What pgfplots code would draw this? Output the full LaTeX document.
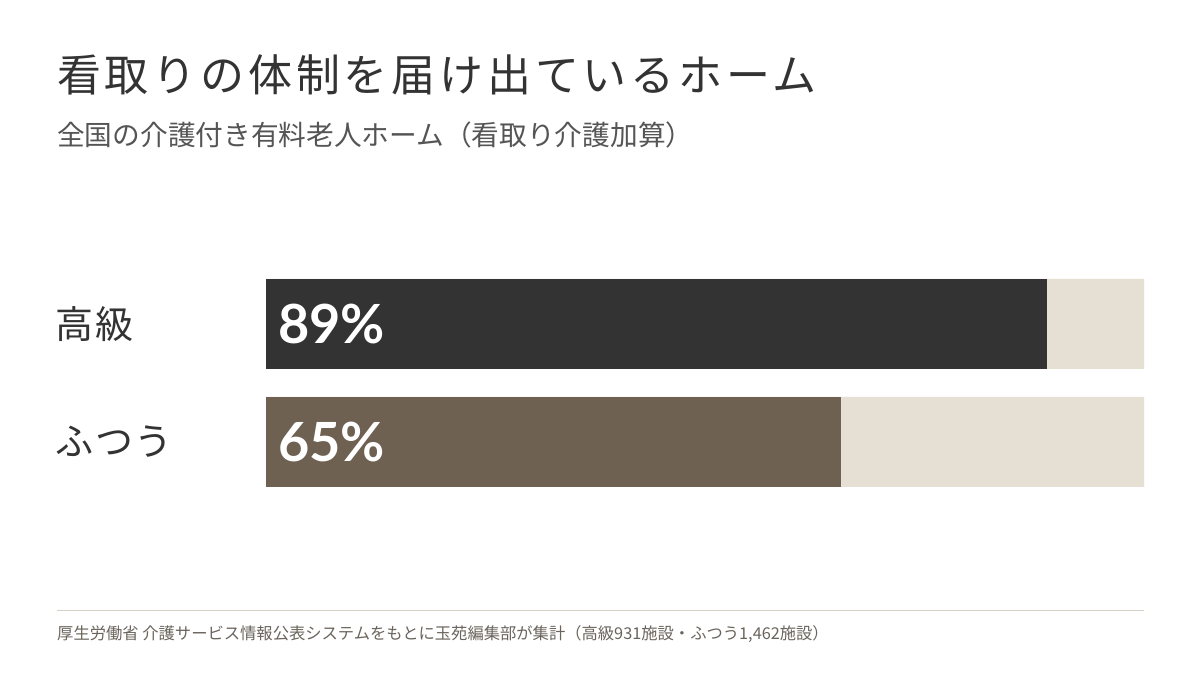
\documentclass[border=0pt]{standalone}
\usepackage{pgfplots}
\pgfplotsset{compat=1.18}
\usepackage{fontspec}
\setmainfont{Noto Sans CJK JP}
\newfontfamily\titlefont{Noto Sans CJK JP}[LetterSpace=8.6]
\newfontfamily\catfont{Noto Sans CJK JP}[LetterSpace=4]
\newfontfamily\pctfont{Lato}
\definecolor{titlec}{HTML}{333333}
\definecolor{subc}{HTML}{555555}
\definecolor{darkc}{HTML}{333333}
\definecolor{brownc}{HTML}{6E6151}
\definecolor{trackc}{HTML}{E5DFD4}
\definecolor{linec}{HTML}{D6CFC5}
\definecolor{footc}{HTML}{6B645C}
\begin{document}
\begin{tikzpicture}[x=1pt,y=1pt]
\fill[white] (0,0) rectangle (1200,675);
\node[anchor=west, inner sep=0, text=titlec, font=\titlefont\fontsize{44}{50}\selectfont] at (57,600) {看取りの体制を届け出ているホーム};
\node[anchor=west, inner sep=0, text=subc, font=\fontsize{27.7}{32}\selectfont] at (57,540) {全国の介護付き有料老人ホーム（看取り介護加算）};
\begin{axis}[
  at={(266pt,174pt)}, anchor=south west, scale only axis,
  width=878pt, height=236pt,
  xbar, bar width=90pt, bar shift=0pt,
  xmin=0, xmax=100, ymin=-0.5, ymax=1.5,
  axis line style={draw=none}, tick style={draw=none},
  xtick=\empty, ytick={0,1}, yticklabels={ふつう,高級},
  yticklabel style={anchor=west, inner sep=0pt, xshift=-206pt, text=titlec, font=\catfont\fontsize{38}{44}\selectfont},
  clip=false,
]
\addplot[fill=trackc, draw=none] coordinates {(100,0) (100,1)};
\addplot[fill=darkc, draw=none] coordinates {(89,1)};
\addplot[fill=brownc, draw=none] coordinates {(65.5,0)};
\node[anchor=west, inner sep=0pt, xshift=12pt, text=white, font=\pctfont\bfseries\fontsize{54}{60}\selectfont] at (axis cs:0,1) {89\%};
\node[anchor=west, inner sep=0pt, xshift=12pt, text=white, font=\pctfont\bfseries\fontsize{54}{60}\selectfont] at (axis cs:0,0) {65\%};
\end{axis}
\draw[linec, line width=1pt] (57,64) -- (1144,64);
\node[anchor=west, inner sep=0, text=footc, font=\fontsize{16.3}{20}\selectfont] at (57,41) {厚生労働省 介護サービス情報公表システムをもとに玉苑編集部が集計（高級931施設・ふつう1,462施設）};
\end{tikzpicture}
\end{document}
